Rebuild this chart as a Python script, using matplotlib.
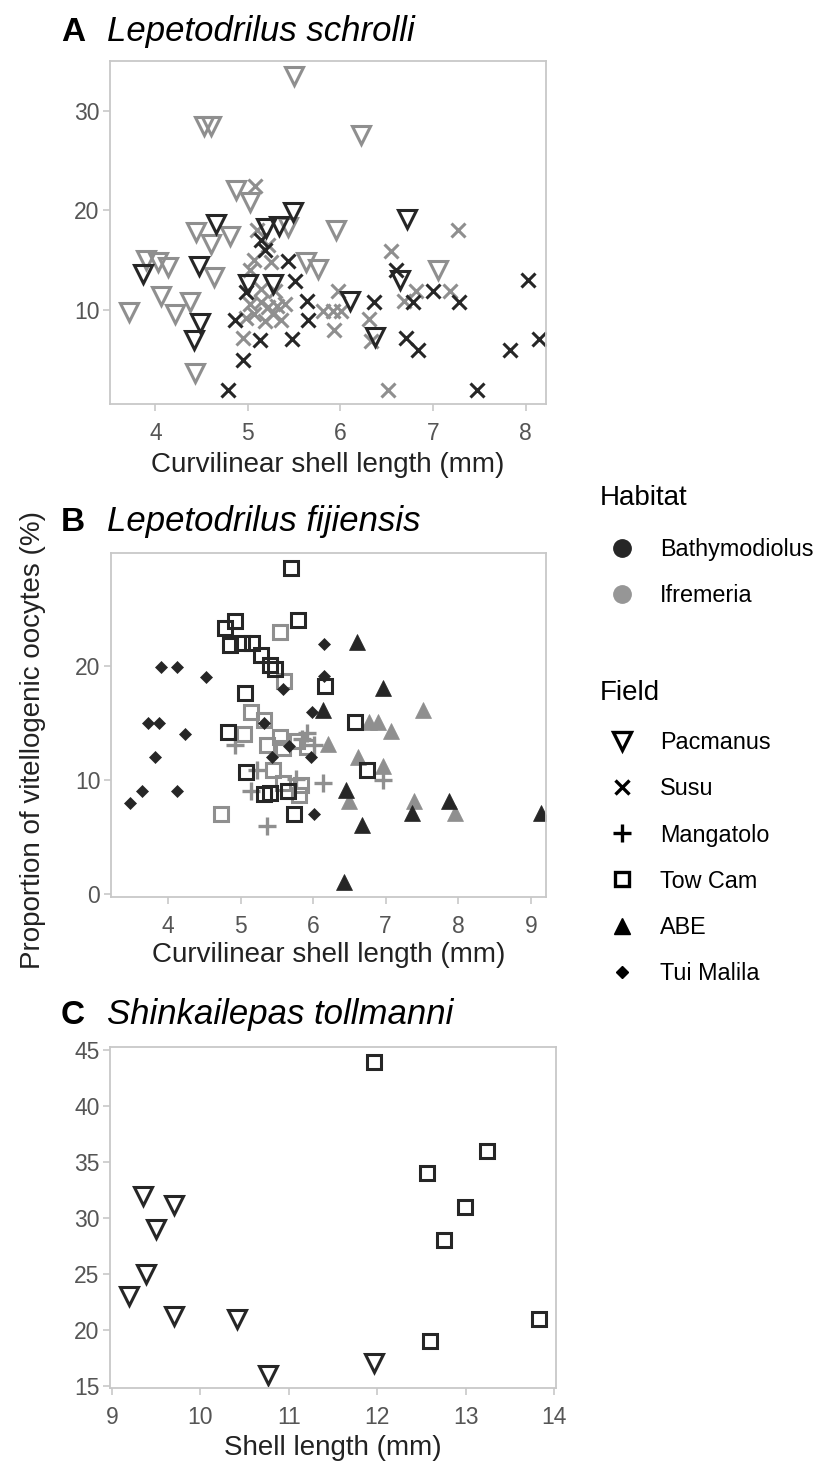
import matplotlib
matplotlib.use("Agg")
import matplotlib.pyplot as plt
from matplotlib.lines import Line2D

plt.rcParams['font.family'] = ['Liberation Sans', 'DejaVu Sans']

DARK = '#262626'
GREY = '#8f8f8f'

# ---- panel A: Lepetodrilus schrolli ----
a_pac_bathy_x = [3.87, 4.47, 4.48, 4.42, 4.65, 5.00, 5.27, 5.20, 5.34, 5.49, 6.10, 6.64, 6.72, 6.37]
a_pac_bathy_y = [13.6, 14.4, 8.6, 6.9, 18.6, 12.6, 12.6, 18.2, 18.4, 19.8, 10.9, 13.0, 19.1, 7.2]
a_pac_ifr_x = [3.72, 3.90, 4.03, 4.14, 4.06, 4.37, 4.21, 4.43, 4.44, 4.60, 4.63, 4.81,
               4.53, 4.60, 4.87, 5.02, 5.43, 5.50, 5.63, 5.76, 5.95, 6.22, 7.05]
a_pac_ifr_y = [9.8, 15.0, 14.8, 14.3, 11.4, 10.8, 9.6, 3.6, 17.8, 16.6, 13.3, 17.4,
               28.5, 28.5, 22.0, 20.8, 18.3, 33.5, 14.8, 14.1, 18.0, 27.6, 14.0]
a_susu_bathy_x = [4.78, 4.95, 4.86, 5.13, 5.48, 5.65, 5.64, 5.51, 5.43, 4.98, 5.18, 5.14,
                  6.60, 6.36, 6.78, 7.00, 7.28, 8.03, 7.83, 8.14, 6.71, 6.84, 7.47]
a_susu_bathy_y = [1.9, 4.9, 8.9, 6.9, 7.0, 8.9, 10.9, 12.9, 14.9, 11.8, 16.0, 17.0,
                  14.0, 10.8, 10.8, 11.9, 10.8, 13.0, 5.9, 7.0, 7.1, 5.9, 1.9]
a_susu_ifr_x = [5.08, 5.10, 5.22, 5.07, 5.25, 5.02, 5.14, 5.29, 5.02, 5.14, 5.22, 5.31, 5.40,
                5.07, 5.27, 4.98, 5.18, 5.36, 4.95, 5.97, 5.81, 5.92, 6.01, 5.93, 6.31,
                6.33, 6.55, 6.69, 6.82, 7.18, 7.27, 6.51]
a_susu_ifr_y = [22.4, 18.0, 16.5, 15.0, 14.8, 14.0, 12.1, 11.9, 10.6, 10.8, 10.3, 10.4, 10.6,
                9.6, 9.6, 9.1, 8.8, 8.9, 7.1, 11.9, 9.9, 9.9, 9.9, 7.9, 9.0,
                6.8, 15.9, 10.9, 11.9, 11.9, 18.0, 1.9]

# ---- panel B: Lepetodrilus fijiensis ----
b_tow_bathy_x = [5.70, 5.79, 4.93, 4.79, 4.86, 5.02, 5.16, 5.28, 5.41, 5.48, 5.06, 6.16,
                 6.58, 4.83, 5.08, 5.32, 5.41, 5.65, 5.73, 6.74]
b_tow_bathy_y = [28.6, 24.0, 23.9, 23.3, 21.8, 22.0, 22.0, 21.0, 20.1, 19.7, 17.6, 18.2,
                 15.1, 14.2, 10.7, 8.8, 8.9, 9.0, 7.0, 10.9]
b_tow_ifr_x = [5.55, 5.60, 5.14, 5.32, 5.05, 5.37, 5.55, 5.58, 5.78, 5.92, 5.45, 5.58, 5.83, 5.81, 4.73]
b_tow_ifr_y = [23.0, 18.7, 16.0, 15.3, 14.0, 13.1, 13.8, 12.8, 13.4, 12.9, 10.9, 9.7, 9.6, 8.7, 7.0]
b_mang_ifr_x = [4.93, 5.92, 6.01, 5.85, 5.23, 5.14, 5.76, 6.13, 5.37, 6.97]
b_mang_ifr_y = [13.1, 14.1, 13.1, 13.6, 10.9, 9.0, 10.1, 9.7, 6.0, 10.0]
b_abe_bathy_x = [6.14, 6.61, 6.97, 6.45, 6.68, 6.43, 7.36, 7.87, 9.14]
b_abe_bathy_y = [16.1, 22.1, 18.1, 9.1, 6.1, 1.1, 7.1, 8.2, 7.1]
b_abe_ifr_x = [7.51, 6.77, 6.89, 7.08, 6.20, 6.62, 6.96, 6.49, 7.39, 7.95]
b_abe_ifr_y = [16.1, 15.1, 15.1, 14.3, 13.2, 12.0, 11.2, 8.2, 8.2, 7.1]
b_tui_bathy_x = [3.90, 4.13, 4.52, 6.15, 5.59, 5.98, 3.73, 3.87, 5.32, 6.15, 4.23, 3.82,
                 3.64, 4.13, 3.47, 5.67, 5.44, 5.97, 6.01]
b_tui_bathy_y = [19.9, 19.9, 19.0, 21.9, 18.0, 16.0, 15.0, 15.0, 15.0, 19.1, 14.0, 12.0,
                 9.0, 9.0, 8.0, 13.0, 12.0, 12.0, 7.0]

# ---- panel C: Shinkailepas tollmanni ----
c_pac_x = [9.35, 9.70, 9.50, 9.39, 9.20, 9.70, 10.42, 10.76, 11.96]
c_pac_y = [32, 31.2, 29, 25, 23, 21.2, 21, 16, 17]
c_tow_x = [11.96, 13.24, 12.56, 12.99, 12.76, 13.83, 12.60]
c_tow_y = [44, 36, 34, 31, 28, 21, 19]

habitats = ['Bathymodiolus', 'Ifremeria']
fields = ['Pacmanus', 'Susu', 'Mangatolo', 'Tow Cam', 'ABE', 'Tui Malila']

W, H = 816, 1463
fig = plt.figure(figsize=(W / 100, H / 100), dpi=100)

TICK_FS = 16.5
LAB_FS = 20
MS = {'v': 12.5, 'x': 10.5, '+': 13, 's': 10, '^': 11.5, 'D': 6}


def make_axes(l, t, r, b):
    return fig.add_axes([l / W, 1 - b / H, (r - l) / W, (b - t) / H])


def style(ax):
    for s in ax.spines.values():
        s.set_color('#c8c8c8')
        s.set_linewidth(1.3)
    ax.tick_params(colors='#c8c8c8', labelcolor='#555555', labelsize=TICK_FS, length=5, width=1.2)
    ax.tick_params(axis='x', pad=8)
    ax.tick_params(axis='y', pad=2.5)


def pts(ax, x, y, marker, color, filled=False, mew=2.2):
    if filled:
        ax.plot(x, y, ls='none', marker=marker, ms=MS[marker], color=color, mec=color, mew=0.5)
    else:
        ax.plot(x, y, ls='none', marker=marker, ms=MS[marker], mfc='none', mec=color, mew=mew)


# panel A
axA = make_axes(110, 61, 546, 404)
pts(axA, a_susu_ifr_x, a_susu_ifr_y, 'x', GREY)
pts(axA, a_pac_ifr_x, a_pac_ifr_y, 'v', GREY)
pts(axA, a_susu_bathy_x, a_susu_bathy_y, 'x', DARK)
pts(axA, a_pac_bathy_x, a_pac_bathy_y, 'v', DARK)
axA.set_xlim(3.51, 8.22)
axA.set_ylim(0.5, 35.0)
axA.set_xticks([4, 5, 6, 7, 8])
axA.set_yticks([10, 20, 30])
axA.set_xlabel('Curvilinear shell length (mm)', fontsize=LAB_FS, color='#222222', labelpad=5)
style(axA)

# panel B
axB = make_axes(110.7, 553, 546, 897)
pts(axB, b_tow_ifr_x, b_tow_ifr_y, 's', GREY)
pts(axB, b_mang_ifr_x, b_mang_ifr_y, '+', GREY, mew=2.4)
pts(axB, b_abe_ifr_x, b_abe_ifr_y, '^', GREY, filled=True)
pts(axB, b_tow_bathy_x, b_tow_bathy_y, 's', DARK)
pts(axB, b_abe_bathy_x, b_abe_bathy_y, '^', DARK, filled=True)
pts(axB, b_tui_bathy_x, b_tui_bathy_y, 'D', DARK, filled=True)
axB.set_xlim(3.21, 9.21)
axB.set_ylim(-0.25, 29.9)
axB.set_xticks([4, 5, 6, 7, 8, 9])
axB.set_yticks([0, 10, 20])
axB.set_xlabel('Curvilinear shell length (mm)', fontsize=LAB_FS, color='#222222', labelpad=3)
style(axB)

# panel C
axC = make_axes(110, 1047, 556, 1388)
pts(axC, c_pac_x, c_pac_y, 'v', DARK)
pts(axC, c_tow_x, c_tow_y, 's', DARK)
axC.set_xlim(8.98, 14.02)
axC.set_ylim(14.8, 45.3)
axC.set_xticks([9, 10, 11, 12, 13, 14])
axC.set_yticks([15, 20, 25, 30, 35, 40, 45])
axC.set_xlabel('Shell length (mm)', fontsize=LAB_FS, color='#222222', labelpad=4)
style(axC)

# panel titles
for ypix, letter, name in [(41, 'A', 'Lepetodrilus schrolli'),
                           (531, 'B', 'Lepetodrilus fijiensis'),
                           (1024, 'C', 'Shinkailepas tollmanni')]:
    fig.text(61 / W, 1 - ypix / H, letter, fontsize=24, fontweight='bold', va='baseline')
    fig.text(107 / W, 1 - ypix / H, name, fontsize=25, style='italic', va='baseline')

fig.text(33 / W, 1 - 740 / H, 'Proportion of vitellogenic oocytes (%)', rotation=90,
         fontsize=LAB_FS, color='#222222', ha='center', va='center')

# legends
LEG_FS = 16.8
fig.text(600 / W, 1 - 505 / H, 'Habitat', fontsize=20, va='baseline')
fig.text(600 / W, 1 - 700 / H, 'Field', fontsize=20, va='baseline')

hab_handles = [Line2D([], [], ls='none', marker='o', ms=12.5, color=c) for c in [DARK, '#969696']]
fig.legend(hab_handles, habitats, loc='upper left', bbox_to_anchor=(589.4 / W, 1 - 529 / H),
           frameon=False, fontsize=LEG_FS, labelspacing=0.97, handletextpad=0.63,
           borderaxespad=0)
field_handles = []
for m in ['v', 'x', '+', 's', '^', 'D']:
    if m in ('^', 'D'):
        field_handles.append(Line2D([], [], ls='none', marker=m, ms=MS[m], color='black'))
    else:
        field_handles.append(Line2D([], [], ls='none', marker=m, ms=MS[m], mfc='none',
                                    mec='black', mew=2.4))
fig.legend(field_handles, fields, loc='upper left', bbox_to_anchor=(589.4 / W, 1 - 722 / H),
           frameon=False, fontsize=LEG_FS, labelspacing=0.99, handletextpad=0.63,
           borderaxespad=0)

fig.savefig('out.png', dpi=100)
